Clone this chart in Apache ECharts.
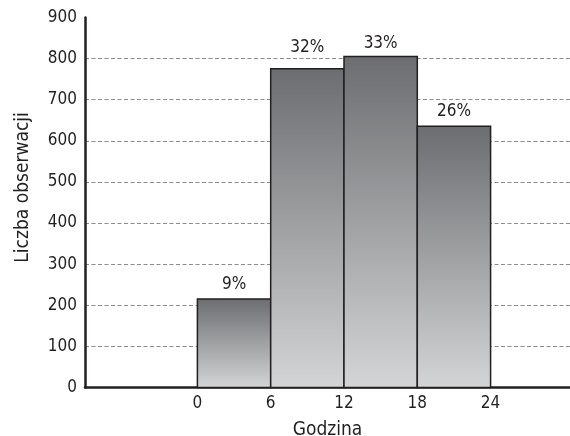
<!DOCTYPE html>
<html>
<head>
<meta charset="utf-8">
<script src="https://cdn.jsdelivr.net/npm/echarts@6/dist/echarts.min.js"></script>
<style>
  html, body { margin: 0; padding: 0; background: #fff; }
  #main { width: 570px; height: 436px; }
</style>
</head>
<body>
<div id="main"></div>
<script>
// Hour bins (start, end) and counts
const binStart = [0, 6, 12, 18];
const binEnd = [6, 12, 18, 24];
const counts = [215, 775, 805, 635];
const pctLabels = ['9%', '32%', '33%', '26%'];
const xTicks = [0, 6, 12, 18, 24];

// label offset above each bar (the 32% one sits higher in the original)
const labelGap = [5, 12, 4, 6];

const font = '"Liberation Sans Narrow", "DejaVu Sans Condensed", sans-serif';
const ink = '#231f20';

const barData = counts.map((c, i) => [binStart[i], binEnd[i], c, pctLabels[i]]);

var myChart = echarts.init(document.getElementById('main'));

const option = {
  animation: false,
  grid: { left: 85, right: 0, top: 17.4, bottom: 48.5, outerBoundsMode: 'none' },
  xAxis: {
    type: 'value',
    min: -9.2,
    max: 30.5,
    name: 'Godzina',
    nameLocation: 'middle',
    nameGap: 33,
    nameTextStyle: { fontFamily: font, fontSize: 19, color: ink },
    axisLine: { onZero: false, lineStyle: { color: ink, width: 2.5 } },
    axisTick: { show: false },
    splitLine: { show: false },
    axisLabel: {
      customValues: xTicks,
      fontFamily: font, fontSize: 17, color: ink, margin: 8
    }
  },
  yAxis: {
    type: 'value',
    min: 0,
    max: 900,
    interval: 100,
    name: 'Liczba obserwacji',
    nameLocation: 'middle',
    nameGap: 52,
    nameTextStyle: { fontFamily: font, fontSize: 19, color: ink, padding: [0, 0, 0, 30] },
    axisLine: { show: true, onZero: false, lineStyle: { color: ink, width: 2.5 } },
    axisTick: { show: false },
    axisLabel: { fontFamily: font, fontSize: 17, color: ink, margin: 8 },
    splitLine: {
      show: true,
      showMinLine: false,
      showMaxLine: false,
      lineStyle: { color: '#8c8c8c', type: [4, 2.5], width: 1 }
    }
  },
  series: [{
    type: 'custom',
    data: barData,
    encode: { x: [0, 1], y: 2 },
    renderItem: function (params, api) {
      const p0 = api.coord([api.value(0), 0]);
      const p1 = api.coord([api.value(1), api.value(2)]);
      return {
        type: 'rect',
        shape: { x: p0[0], y: p1[1], width: p1[0] - p0[0], height: p0[1] - p1[1] },
        style: {
          fill: new echarts.graphic.LinearGradient(0, 0, 0, 1, [
            { offset: 0, color: '#6c6d70' },
            { offset: 1, color: '#d4d5d6' }
          ]),
          stroke: ink,
          lineWidth: 1.5
        },
        textContent: {
          style: {
            text: barData[params.dataIndex][3],
            fontFamily: font, fontSize: 17, fill: ink
          }
        },
        textConfig: { position: 'top', distance: labelGap[params.dataIndex] }
      };
    }
  }]
};

myChart.setOption(option);
</script>
</body>
</html>
